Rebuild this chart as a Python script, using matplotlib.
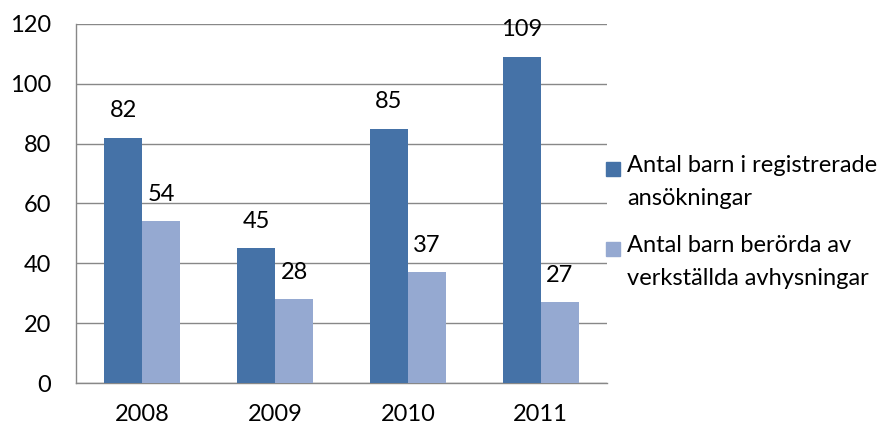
import matplotlib.pyplot as plt
import numpy as np
from matplotlib.patches import Rectangle

years = ["2008", "2009", "2010", "2011"]
registrerade = [82, 45, 85, 109]
verkstallda = [54, 28, 37, 27]
series_names = ["Antal barn i registrerade\nansökningar",
                "Antal barn berörda av\nverkställda avhysningar"]
colors = ["#4572A7", "#95A9D1"]

plt.rcParams['font.family'] = ['Lato', 'DejaVu Sans']
fs = 17

fig = plt.figure(figsize=(8.92, 4.28), dpi=100)
ax = fig.add_axes([0.0852, 0.1051, 0.5953, 0.8389])

x = np.arange(len(years))
w = 0.286
bars1 = ax.bar(x - w / 2, registrerade, w, color=colors[0], zorder=3)
bars2 = ax.bar(x + w / 2, verkstallda, w, color=colors[1], zorder=3)

for bars, vals in [(bars1, registrerade), (bars2, verkstallda)]:
    for b, v in zip(bars, vals):
        ax.annotate(str(v), (b.get_x() + b.get_width() / 2, v),
                    xytext=(0, 12), textcoords="offset points",
                    ha="center", va="bottom", fontsize=fs)

ax.set_xlim(-0.5, len(years) - 0.5)
ax.set_ylim(0, 120)
ax.set_yticks(range(0, 121, 20))
ax.set_xticks(x)
ax.set_xticklabels(years)
ax.tick_params(length=0, labelsize=fs)
ax.tick_params(axis="y", pad=18)
ax.tick_params(axis="x", pad=15)
ax.yaxis.grid(True, color="#888888", linewidth=1, zorder=0)
for s in ["top", "right"]:
    ax.spines[s].set_visible(False)
for s in ["left", "bottom"]:
    ax.spines[s].set_color("#888888")
    ax.spines[s].set_linewidth(1)

# legend drawn by hand so the squares line up with the first text line
for i, (name, c) in enumerate(zip(series_names, colors)):
    y = 162 + i * 80
    fig.patches.append(Rectangle((606 / 892, 1 - (y + 14) / 428), 14 / 892, 14 / 428,
                                 transform=fig.transFigure, color=c))
    fig.text(627 / 892, 1 - (y - 7) / 428, name, fontsize=fs, va="top",
             linespacing=1.7)

fig.savefig("out.png", dpi=100)
